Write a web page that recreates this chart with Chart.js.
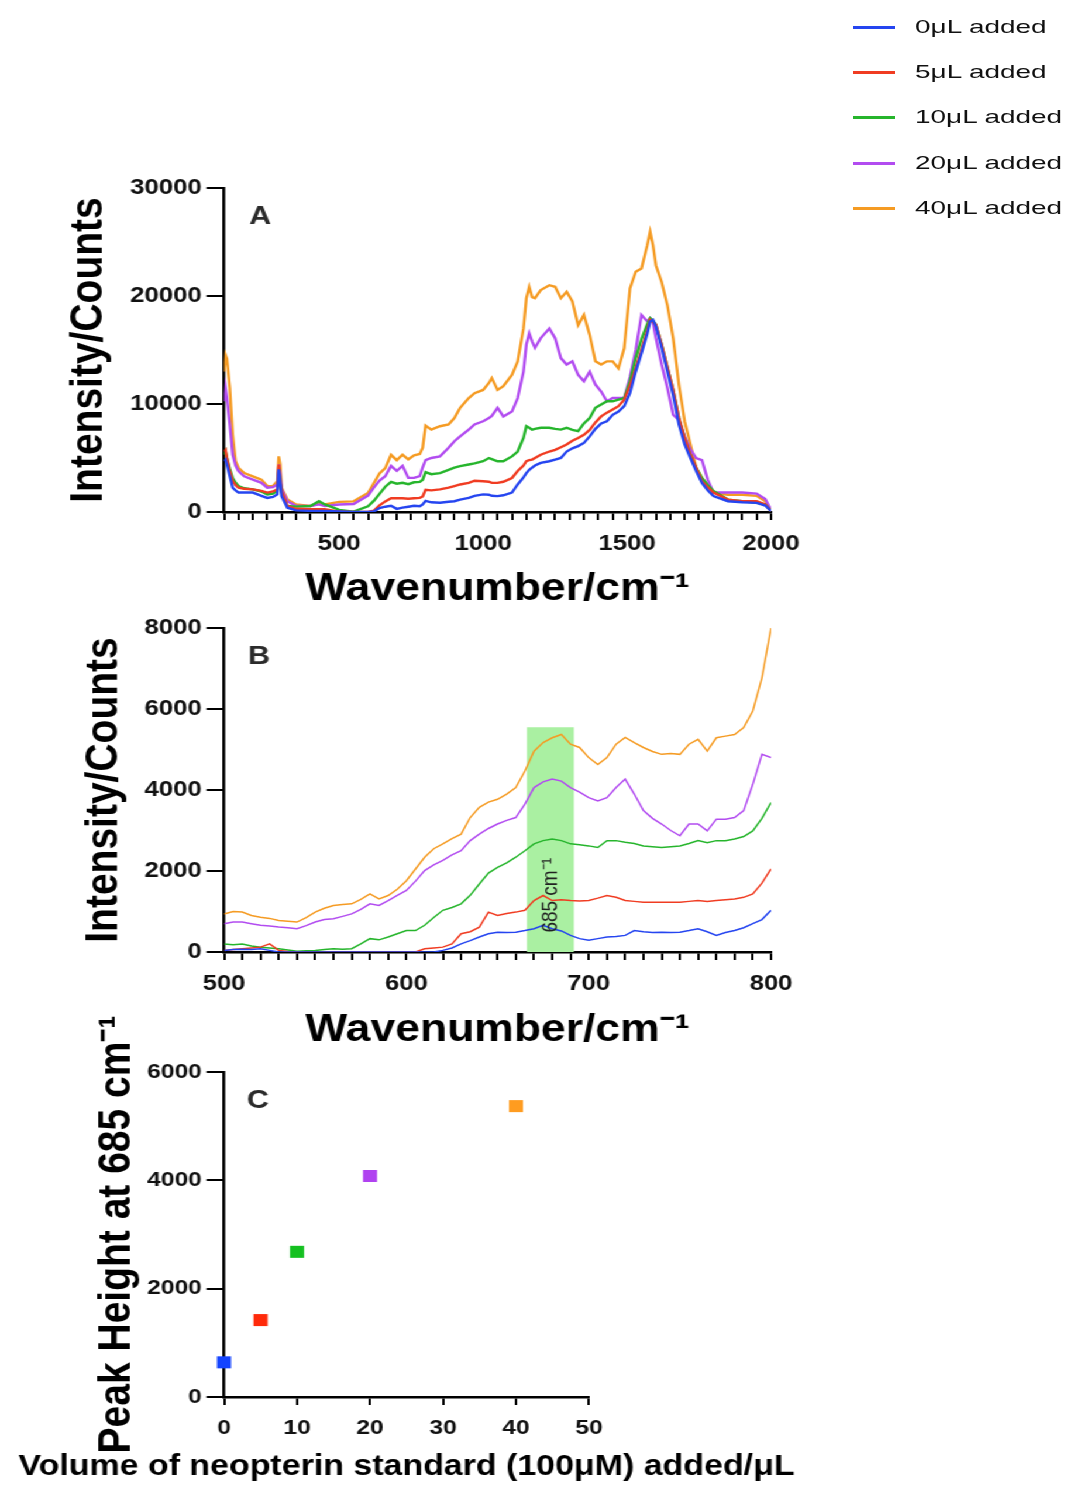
<!DOCTYPE html>
<html lang="en">
<head>
<meta charset="utf-8">
<title>Neopterin standard additions</title>
<script src="https://cdn.jsdelivr.net/npm/chart.js@4.4.1/dist/chart.umd.min.js"></script>
<style>
html,body{margin:0;padding:0;background:#fff}
body{width:1072px;height:1485px;position:relative;overflow:hidden}
#stage{position:absolute;left:0;top:0;width:917px;height:1485px;transform:scaleX(1.17);transform-origin:0 0}
#stage canvas{position:absolute;left:0}
#legend{position:absolute;left:0;top:0;font-family:'Liberation Sans',Arial,sans-serif}
.lg-line{position:absolute;height:3px;width:42px}
.lg-text{position:absolute;font-size:19px;line-height:22px;color:#111;white-space:nowrap;transform:scaleX(1.47);transform-origin:0 50%}
</style>
</head>
<body>
<div id="stage">
<canvas id="cA" width="917" height="480" style="top:140px"></canvas>
<canvas id="cB" width="917" height="467" style="top:590px"></canvas>
<canvas id="cC" width="917" height="490" style="top:995px"></canvas>
</div>
<div id="legend"></div>
<script>
// ---------------- DATA ----------------
const seriesLabels = ['0\u03bcL added','5\u03bcL added','10\u03bcL added','20\u03bcL added','40\u03bcL added'];
const lineColors = ['#2545f0','#f03c22','#26b52c','#b24cf0','#f59b23'];
const markerColors = ['#1444ff','#ff2a0a','#14c020','#b042f0','#ff9c20'];

// Panel A: full spectra
const xA = [100,105,110,120,130,140,150,170,200,230,250,270,285,290,295,300,320,350,400,430,450,500,550,600,620,640,660,680,700,720,740,760,780,790,800,820,850,880,900,920,950,970,1000,1020,1030,1050,1070,1100,1120,1140,1150,1160,1170,1180,1200,1230,1250,1270,1290,1310,1330,1350,1370,1390,1410,1430,1450,1470,1490,1510,1530,1550,1570,1580,1590,1600,1620,1640,1660,1680,1700,1720,1740,1760,1780,1800,1850,1900,1950,1980,2000];
const a0 = [4700,4850,4400,3300,2250,2000,1800,1800,1800,1500,1300,1400,1630,3950,2800,1470,400,150,100,100,100,40,0,0,40,370,490,575,290,410,490,575,530,700,1030,900,860,950,1000,1150,1300,1500,1630,1600,1500,1470,1550,1800,2550,3200,3600,3900,4100,4300,4550,4700,4850,5000,5600,5900,6100,6400,7000,7700,8200,8400,9000,9300,9800,11000,13000,14700,16500,17650,17800,17200,15200,13000,10800,8100,6250,5000,3800,2700,2000,1470,1000,900,850,600,100];
const a5 = [5600,5750,5000,3800,2850,2500,2250,2150,2100,1950,1800,1900,2100,4400,3000,1950,550,300,250,250,250,40,0,0,120,615,985,1270,1270,1270,1230,1270,1310,1435,2050,2000,2100,2250,2400,2550,2700,2900,2850,2800,2700,2700,2800,3150,3800,4300,4700,4800,4850,5000,5300,5600,5750,6000,6250,6600,6850,7150,7600,8300,8850,9200,9500,9800,10400,11700,13300,15000,16800,17800,17600,17350,15500,13400,11300,8700,6850,5300,4100,2850,2300,1800,1150,1000,1000,700,100];
const a10 = [5300,5600,5000,4000,3150,2700,2400,2200,2100,1900,1630,1700,1950,4100,3000,1800,550,500,550,1000,700,200,40,530,1030,1680,2340,2790,2620,2710,2580,2750,2790,2990,3690,3500,3600,3900,4100,4250,4400,4500,4700,5000,4900,4700,4700,5150,5600,6850,7950,7800,7630,7700,7800,7800,7700,7630,7800,7600,7480,8200,8700,9650,9950,10250,10250,10400,10550,12100,14250,16000,17400,17950,17700,17350,15500,13400,11300,8700,6850,5300,4100,3150,2500,1950,1150,1000,850,700,100];
const a20 = [10250,11500,10550,8100,5300,4300,3800,3300,3000,2700,2250,2300,2550,4400,3500,2100,1000,550,550,700,550,700,740,1520,2260,2910,3320,4270,3810,4270,3160,3160,3320,4140,4800,5000,5150,5950,6550,7000,7630,8100,8400,8700,8900,9650,8850,9300,10550,13000,15500,16550,15800,15200,16100,17000,16100,14250,13650,13950,12700,12100,13000,11800,11150,10250,10550,10550,10550,12500,15000,18250,17650,17950,17500,16100,13650,11500,9000,8500,7000,5800,5000,4800,3000,1800,1800,1800,1700,1200,200];
const a40 = [13000,14550,14200,11500,7150,4700,4100,3600,3300,3000,2400,2400,2850,5150,4400,2250,1170,700,550,800,700,940,985,1760,2670,3570,4060,5290,4800,5300,4880,5250,5370,5950,8000,7630,7940,8100,8700,9650,10550,11000,11300,11950,12400,11300,11650,12700,13950,17000,19800,20850,19900,19800,20550,21000,20850,19800,20400,19500,17300,18250,16400,13950,13650,13950,13950,13300,15150,20700,22250,22550,24700,25950,24700,22850,21300,19150,16100,11800,8400,6250,4100,3150,2500,1800,1600,1600,1500,1000,100];
const seriesA = [a0,a5,a10,a20,a40];

// Panel B: 500-800 cm-1 region
const xB = [500,505,510,515,520,525,530,535,540,545,550,555,560,565,570,575,580,585,590,595,600,605,610,615,620,625,630,635,640,645,650,655,660,665,670,675,680,685,690,695,700,705,710,715,720,725,730,735,740,745,750,755,760,765,770,775,780,785,790,795,800];
const b0 = [40,60,70,60,80,40,0,0,0,0,0,0,0,0,0,0,0,0,0,0,0,0,0,0,40,100,200,280,370,450,490,480,490,530,575,660,575,520,410,330,290,330,370,380,410,530,500,480,490,480,490,530,575,500,410,480,530,600,700,800,1030];
const b5 = [40,60,80,100,120,200,40,10,0,0,0,0,0,0,0,0,0,0,0,0,0,0,80,100,120,200,450,500,615,985,900,950,985,1030,1270,1395,1270,1290,1270,1260,1270,1330,1395,1350,1270,1250,1230,1230,1230,1230,1230,1250,1270,1250,1270,1290,1310,1350,1435,1700,2050];
const b10 = [200,180,200,150,120,100,80,50,20,30,40,60,80,70,80,200,330,300,370,450,530,530,660,850,1030,1100,1190,1400,1680,1950,2090,2200,2340,2500,2670,2750,2790,2750,2670,2650,2620,2580,2750,2750,2710,2680,2620,2600,2580,2600,2620,2680,2750,2700,2750,2750,2790,2850,2990,3300,3690];
const b20 = [700,740,740,700,660,640,615,600,575,650,740,800,820,880,940,1050,1190,1150,1270,1400,1520,1750,2010,2150,2260,2400,2500,2750,2910,3050,3160,3250,3320,3650,4060,4200,4270,4220,4060,3950,3810,3730,3810,4060,4270,3900,3490,3300,3160,3000,2870,3160,3160,2990,3280,3280,3320,3490,4140,4880,4800];
const b40 = [940,1000,985,900,860,830,780,760,740,850,985,1080,1150,1170,1190,1300,1435,1310,1395,1550,1760,2050,2340,2550,2670,2800,2910,3320,3570,3700,3770,3900,4060,4470,4960,5170,5290,5370,5130,5050,4800,4630,4800,5130,5300,5170,5050,4950,4880,4900,4880,5130,5250,4960,5290,5330,5370,5540,5950,6770,8000];
const seriesB = [b0,b5,b10,b20,b40];
const bandRange = [666, 692];
const bandTop = 5550;
const bandLabel = '685 cm\u207b\u00b9';
const bandLabelAt = [679, 1400];

// Panel C: peak height vs volume added
const volumes = [0, 5, 10, 20, 40];
const peakHeights = [640, 1420, 2680, 4080, 5370];

// Axis texts
const titleWave = 'Wavenumber/cm\u207b\u00b9';
const titleIntensity = 'Intensity/Counts';
const titlePeak = 'Peak Height at 685 cm\u207b\u00b9';
const titleVolume = 'Volume of neopterin standard (100\u03bcM) added/\u03bcL';
const panelLetters = ['A','B','C'];

// ---------------- HELPERS ----------------
const FONT = "'Liberation Sans', Arial, Helvetica, sans-serif";
Chart.defaults.font.family = FONT;
Chart.defaults.color = '#111';

function xScale(o){
  return {
    type:'linear', position:'bottom', min:o.min, max:o.max,
    ticks:{stepSize:o.step, autoSkip:false, maxRotation:0, minRotation:0, padding:11, color:'#111',
      font:{family:FONT,size:o.fs||22,weight:'bold'},
      callback:(v)=> o.every ? (Math.abs(v % o.every) < 1e-9 ? String(v) : '') : String(v)},
    grid:{display:true, drawOnChartArea:false, drawTicks:true, tickLength:8, color:'#000', lineWidth:2},
    border:{display:true, color:'#000', width:2.5},
    title: o.title ? {display:true, text:o.title, color:'#000', font:{family:FONT,size:38,weight:'bold'}, padding:{top:0,bottom:o.titlePad}} : {display:false},
    afterFit:(s)=>{ s.height = o.height; }
  };
}
function yScale(o){
  return {
    type:'linear', position:'left', min:o.min, max:o.max,
    ticks:{stepSize:o.step, padding:4, color:'#111', font:{family:FONT,size:o.fs||22,weight:'bold'}, callback:(v)=>String(v)},
    grid:{display:true, drawOnChartArea:false, drawTicks:true, tickLength:15, color:'#000', lineWidth:2},
    border:{display:true, color:'#000', width:2.5},
    title: o.title ? {display:true, text:o.title, color:'#000', font:{family:FONT,size:39,weight:'bold'}, padding:{top:o.titlePad,bottom:0}} : {display:false},
    afterFit:(s)=>{ s.width = o.width; }
  };
}
function overlay(items){
  return {id:'overlay', afterDraw(chart){
    const ctx = chart.ctx;
    items.forEach(it=>{
      const p = it.pos(chart);
      ctx.save();
      ctx.font = it.font; ctx.fillStyle = it.color || '#000';
      ctx.textAlign = 'center'; ctx.textBaseline = 'middle';
      ctx.translate(p.x, p.y);
      if (it.rot) ctx.rotate(it.rot);
      ctx.fillText(it.text, 0, 0);
      ctx.restore();
    });
  }};
}
const letterFont = 'bold 26px ' + FONT;
const common = {responsive:false, animation:false, events:[], plugins:{legend:{display:false}, tooltip:{enabled:false}}};

// ---------------- PANEL A ----------------
new Chart(document.getElementById('cA'), {
  type:'line',
  data:{datasets: seriesA.map((arr,i)=>({
    label: seriesLabels[i], data: xA.map((x,j)=>({x, y: arr[j]})),
    borderColor: lineColors[i], borderWidth: 2.4, pointRadius: 0, tension: 0, fill:false
  }))},
  options:Object.assign({}, common, {
    layout:{padding:{left:0, right:258, top:48, bottom:0}},
    scales:{
      x: xScale({min:100, max:2000, step:50, every:500, title:titleWave, titlePad:8, height:108}),
      y: yScale({min:0, max:30000, step:10000, title:titleIntensity, titlePad:53, width:191.5})
    }
  }),
  plugins:[overlay([{text:panelLetters[0], font:letterFont, color:'#2b2b2b', pos:(c)=>({x:c.chartArea.left+31, y:c.chartArea.top+29})}])]
});

// ---------------- PANEL B ----------------
const bandDataset = {
  label:'band', data:[{x:bandRange[0], y:bandTop},{x:bandRange[1], y:bandTop}],
  borderWidth:0, pointRadius:0, fill:'origin', backgroundColor:'#aaf0a2', borderColor:'rgba(0,0,0,0)', order:5
};
new Chart(document.getElementById('cB'), {
  type:'line',
  data:{datasets: [bandDataset].concat(seriesB.map((arr,i)=>({
    label: seriesLabels[i], data: xB.map((x,j)=>({x, y: arr[j]})),
    borderColor: lineColors[i], borderWidth: 1.5, pointRadius: 0, tension: 0, fill:false, order:0
  })))},
  options:Object.assign({}, common, {
    layout:{padding:{left:0, right:258, top:38, bottom:0}},
    scales:{
      x: xScale({min:500, max:800, step:10, every:100, title:titleWave, titlePad:4, height:105}),
      y: yScale({min:0, max:8000, step:2000, title:titleIntensity, titlePad:66, width:191.5})
    }
  }),
  plugins:[overlay([
    {text:panelLetters[1], font:letterFont, color:'#2b2b2b', pos:(c)=>({x:c.chartArea.left+30, y:c.chartArea.top+29})},
    {text:bandLabel, font:'19px ' + FONT, color:'#222', rot:-Math.PI/2,
     pos:(c)=>({x:c.scales.x.getPixelForValue(bandLabelAt[0]), y:c.scales.y.getPixelForValue(bandLabelAt[1])})}
  ])]
});

// ---------------- PANEL C ----------------
new Chart(document.getElementById('cC'), {
  type:'scatter',
  data:{datasets:[{
    label:'Peak height', data: volumes.map((v,i)=>({x:v, y:peakHeights[i]})),
    pointStyle:'rect', pointRadius:8.5, backgroundColor: markerColors, borderWidth:0, clip:false
  }]},
  options:Object.assign({}, common, {
    layout:{padding:{left:0, right:413.6, top:77, bottom:0}},
    scales:{
      x: xScale({min:0, max:50, step:10, fs:21, height:88}),
      y: yScale({min:0, max:6000, step:2000, fs:21, width:191.5})
    }
  }),
  plugins:[overlay([
    {text:panelLetters[2], font:letterFont, color:'#2b2b2b', pos:(c)=>({x:c.chartArea.left+29, y:c.chartArea.top+29})},
    {text:titlePeak, font:'bold 39px ' + FONT, color:'#000', rot:-Math.PI/2,
     pos:(c)=>({x:100, y:(c.chartArea.top+c.chartArea.bottom)/2})},
    {text:titleVolume, font:'bold 29px ' + FONT, color:'#000',
     pos:(c)=>({x:(c.chartArea.left+c.chartArea.right)/2, y:472})}
  ])]
});

// ---------------- LEGEND (HTML) ----------------
const legendRowsY = [27, 72, 117, 163, 208];
const lg = document.getElementById('legend');
seriesLabels.forEach((lab,i)=>{
  const ln = document.createElement('div');
  ln.className = 'lg-line';
  ln.style.left = '853px'; ln.style.top = (legendRowsY[i]-1.5)+'px';
  ln.style.background = lineColors[i];
  lg.appendChild(ln);
  const tx = document.createElement('div');
  tx.className = 'lg-text';
  tx.style.left = '915px'; tx.style.top = (legendRowsY[i]-11)+'px';
  tx.textContent = lab;
  lg.appendChild(tx);
});
</script>
</body>
</html>
